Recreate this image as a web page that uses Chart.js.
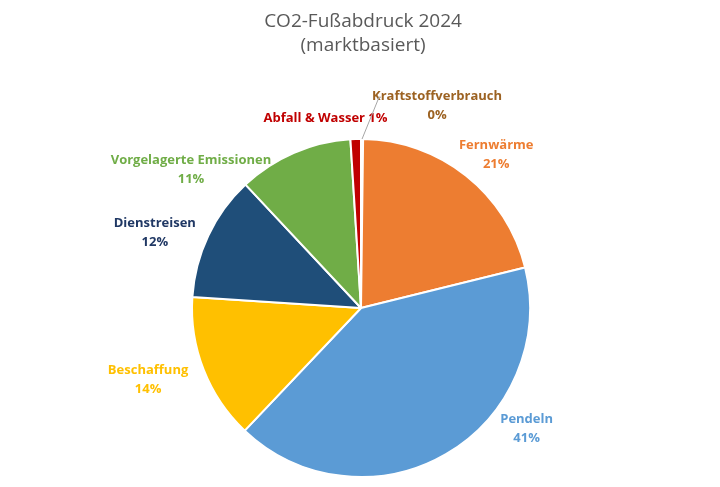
<!DOCTYPE html>
<html><head><meta charset="utf-8">
<script src="https://cdn.jsdelivr.net/npm/chart.js@4/dist/chart.umd.min.js"></script>
<style>html,body{margin:0;padding:0;background:#fff}#w{width:720px;height:487px}</style>
</head><body><div id="w"><canvas id="c"></canvas></div>
<script>
const categories = ["Kraftstoffverbrauch","Fernwärme","Pendeln","Beschaffung","Dienstreisen","Vorgelagerte Emissionen","Abfall & Wasser"];
const values = [0.2, 21, 41, 14, 12, 11, 1];
const percentLabels = ["0%","21%","41%","14%","12%","11%","1%"];
const sliceColors = ["#9E5A22","#ED7D31","#5B9BD5","#FFC000","#1F4E79","#70AD47","#C00000"];
const labelColors = ["#9C6222","#ED7D31","#5B9BD5","#FFC000","#203864","#70AD47","#C00000"];
const titleLines = ["CO2-Fußabdruck 2024","(marktbasiert)"];
// label offsets relative to pie centre, in units of radius
const labelOffsets = [[0.45,-1.2],[0.8,-0.91],[0.98,0.71],[-1.26,0.42],[-1.22,-0.45],[-1.006,-0.82],[-0.21,-1.12]];

const fontFam = "'Open Sans', 'Liberation Sans', sans-serif";
const labelPlugin = {
  id:'lbl',
  afterDraw(chart){
    const ctx = chart.ctx;
    const arc0 = chart.getDatasetMeta(0).data[0];
    const cx = arc0.x, cy = arc0.y, r = arc0.outerRadius;
    ctx.save();
    ctx.fillStyle = '#595959';
    ctx.font = "19px " + fontFam;
    ctx.textAlign = 'center'; ctx.textBaseline = 'middle';
    ctx.fillText(titleLines[0], chart.width/2 + 3, 22);
    ctx.fillText(titleLines[1], chart.width/2 + 3, 46);
    ctx.font = "bold 13px " + fontFam;
    categories.forEach((c,i)=>{
      const x = cx + labelOffsets[i][0]*r, y = cy + labelOffsets[i][1]*r;
      ctx.fillStyle = labelColors[i];
      if (i === 6) {
        ctx.fillText(c + " " + percentLabels[i], x, y);
      } else {
        ctx.fillText(c, x, y - 9);
        ctx.fillText(percentLabels[i], x, y + 10);
      }
    });
    // leader line for tiny slice
    const a = chart.getDatasetMeta(0).data[0];
    const mid = (a.startAngle + a.endAngle)/2;
    ctx.strokeStyle = '#A6A6A6'; ctx.lineWidth = 1;
    ctx.beginPath();
    ctx.moveTo(cx + Math.cos(mid)*r, cy + Math.sin(mid)*r);
    ctx.lineTo(cx + labelOffsets[0][0]*r - 58, cy + labelOffsets[0][1]*r - 8);
    ctx.lineTo(cx + labelOffsets[0][0]*r - 56, cy + labelOffsets[0][1]*r - 8);
    ctx.stroke();
    ctx.restore();
  }
};
new Chart(document.getElementById('c'), {
  type:'pie',
  data:{labels:categories, datasets:[{data:values, backgroundColor:sliceColors, borderColor:'#fff', borderWidth:2}]},
  options:{
    responsive:true, maintainAspectRatio:false, animation:false,
    layout:{padding:{top:138,bottom:9,left:191,right:189}},
    plugins:{legend:{display:false}, tooltip:{enabled:false}}
  },
  plugins:[labelPlugin]
});
</script></body></html>
